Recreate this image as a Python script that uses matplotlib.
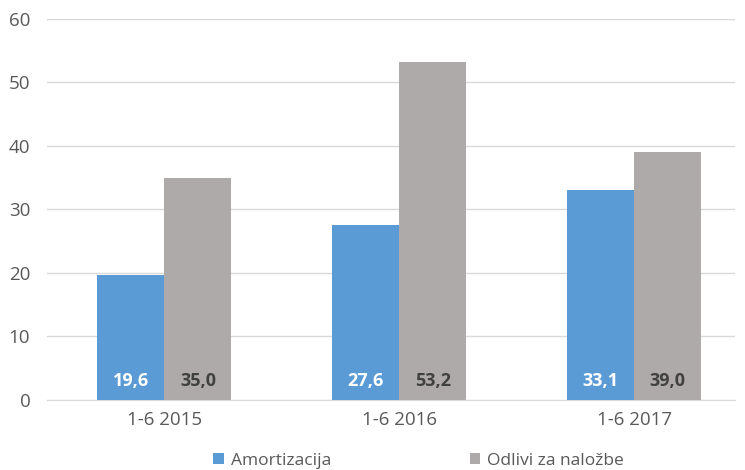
import numpy as np
import matplotlib
matplotlib.use("Agg")
import matplotlib.pyplot as plt

# podatki
kategorije = ["1-6 2015", "1-6 2016", "1-6 2017"]
amortizacija = [19.6, 27.6, 33.1]
odlivi = [35.0, 53.2, 39.0]
oznake_y = [0, 10, 20, 30, 40, 50, 60]

plt.rcParams['font.family'] = ['Open Sans', 'DejaVu Sans']

fig = plt.figure(figsize=(7.45, 4.7), dpi=100)
ax = fig.add_axes([0.063, 0.149, 0.9235, 0.811])

x = np.arange(len(kategorije))
w = 0.285
ax.bar(x - w/2, amortizacija, w, color="#5B9BD5", label="Amortizacija", zorder=3)
ax.bar(x + w/2, odlivi, w, color="#AEAAAA", label="Odlivi za naložbe", zorder=3)

# oznake v stolpcih
for i in range(len(x)):
    ax.text(x[i] - w/2, 3, ("%.1f" % amortizacija[i]).replace(".", ","), ha="center", va="center",
            color="white", fontsize=13, fontweight="bold", zorder=4)
    ax.text(x[i] + w/2, 3, ("%.1f" % odlivi[i]).replace(".", ","), ha="center", va="center",
            color="#404040", fontsize=13, fontweight="bold", zorder=4)

ax.set_ylim(0, 60)
ax.set_xlim(-0.5, 2.428)
ax.set_yticks(oznake_y)
ax.set_xticks(x)
ax.set_xticklabels(kategorije)
ax.tick_params(axis="both", length=0, labelcolor="#595959")
ax.tick_params(axis="x", pad=8, labelsize=13.5)
ax.tick_params(axis="y", pad=12, labelsize=13.5)
ax.grid(axis="y", color="#D9D9D9", linewidth=1, zorder=0)
for s in ["top", "right", "left"]:
    ax.spines[s].set_visible(False)
ax.spines["bottom"].set_color("#D9D9D9")

leg = ax.legend(loc="center", bbox_to_anchor=(0.54, -0.16), ncol=2, frameon=False,
                fontsize=12.5, handlelength=0.6, handleheight=0.6, columnspacing=8.0, handletextpad=0.4)
for t in leg.get_texts():
    t.set_color("#595959")

fig.savefig("out.png", dpi=100)
